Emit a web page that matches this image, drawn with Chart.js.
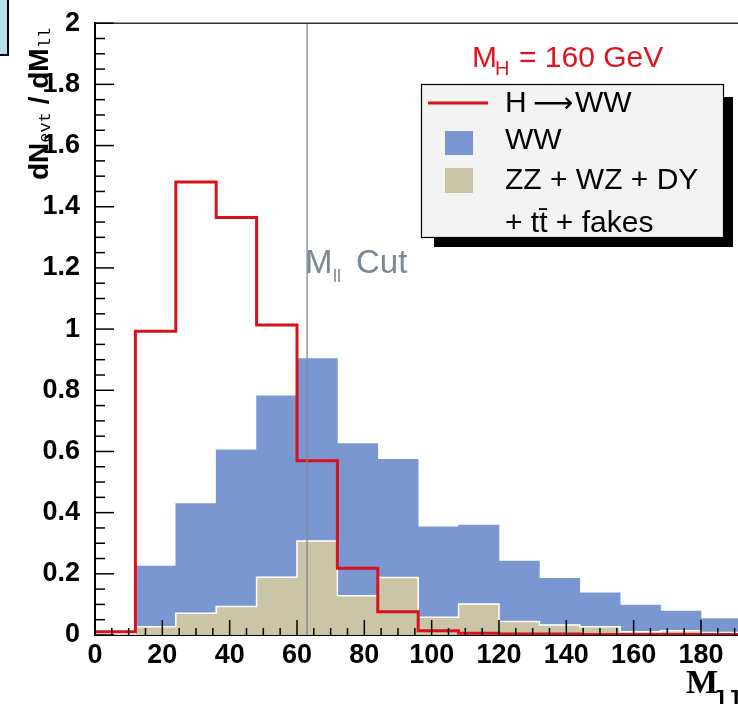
<!DOCTYPE html>
<html>
<head>
<meta charset="utf-8">
<script src="https://cdn.jsdelivr.net/npm/chart.js@4.4.1/dist/chart.umd.min.js"></script>
<style>
  html, body { margin: 0; padding: 0; background: #fff; }
  #wrap { width: 738px; height: 704px; position: relative; }
</style>
</head>
<body>
<div id="wrap"><canvas id="grafico" width="738" height="704"></canvas></div>
<script>
// ---- dados (bins de 12 GeV) ----
const binLow = [0, 12, 24, 36, 48, 60, 72, 84, 96, 108, 120, 132, 144, 156, 168, 180];
const binWidth = 12;
const wwFundo = [0, 0.225, 0.430, 0.605, 0.782, 0.904, 0.626, 0.574, 0.354, 0.359, 0.242, 0.185, 0.138, 0.098, 0.078, 0.054];
const outrosFundo = [0, 0.027, 0.071, 0.093, 0.189, 0.307, 0.128, 0.188, 0.058, 0.101, 0.044, 0.033, 0.027, 0.011, 0.014, 0.008];
const sinalHWW = [0.011, 0.993, 1.481, 1.365, 1.013, 0.570, 0.218, 0.076, 0.014, 0.006, 0.003, 0.003, 0.002, 0.002, 0.002, 0.002];
const corteMll = 63;
const xMin = 0, xMax = 191, xPasso = 20;
const yMin = 0, yMax = 2, yPasso = 0.2;

const legendaItens = ['WW', 'ZZ + WZ + DY', '+ tt\u0304 + fakes'];

const AZUL = '#7b97d1';
const BEGE = '#cbc5a7';
const VERMELHO = '#d8111b';
const SANS = '"Liberation Sans", Arial, sans-serif';

// pontos de histograma
const barras = vals => vals.map((v, i) => ({ x: binLow[i] + binWidth / 2, y: v }));
const degraus = vals => {
    const pts = vals.map((v, i) => ({ x: binLow[i], y: v }));
    pts.push({ x: binLow[binLow.length - 1] + binWidth, y: vals[vals.length - 1] });
    return pts;
};

const decoracao = {
    id: 'decoracao',
    afterDatasetsDraw(chart) {
        const { ctx, chartArea: a, scales: { x, y } } = chart;
        ctx.save();

        // linha de corte
        const xc = x.getPixelForValue(corteMll);
        ctx.strokeStyle = '#7f8790';
        ctx.lineWidth = 1.3;
        ctx.beginPath(); ctx.moveTo(xc, a.top); ctx.lineTo(xc, a.bottom); ctx.stroke();

        // moldura superior
        ctx.strokeStyle = '#333';
        ctx.lineWidth = 1.5;
        ctx.beginPath(); ctx.moveTo(a.left, a.top); ctx.lineTo(a.right, a.top); ctx.stroke();

        // marcas internas eixo y
        ctx.strokeStyle = '#000';
        ctx.lineWidth = 1.5;
        for (let i = 0; i <= 40; i++) {
            const py = y.getPixelForValue(i * 0.05);
            const len = i % 4 === 0 ? 19 : 10;
            ctx.beginPath(); ctx.moveTo(a.left, py); ctx.lineTo(a.left + len, py); ctx.stroke();
        }
        // marcas internas eixo x
        for (let v = 0; v <= xMax; v += 5) {
            const px = x.getPixelForValue(v);
            const len = v % 20 === 0 ? 15 : 7;
            ctx.beginPath(); ctx.moveTo(px, a.bottom); ctx.lineTo(px, a.bottom - len); ctx.stroke();
        }

        ctx.textBaseline = 'alphabetic';
        // texto do corte
        ctx.fillStyle = '#7a8894';
        ctx.font = '33px ' + SANS;
        ctx.fillText('M', 305, 273);
        ctx.font = '18px ' + SANS;
        ctx.fillText('ll', 333, 282);
        ctx.font = '33px ' + SANS;
        ctx.fillText('Cut', 356, 273);

        // M_H = 160 GeV
        ctx.fillStyle = '#e0141e';
        ctx.font = '30px ' + SANS;
        ctx.fillText('M', 472, 67);
        ctx.font = '20px ' + SANS;
        ctx.fillText('H', 495, 75);
        ctx.font = '30px ' + SANS;
        ctx.fillText('= 160 GeV', 519, 67);

        // legenda com sombra
        ctx.fillStyle = '#000';
        ctx.fillRect(434, 97, 299, 150);
        ctx.fillStyle = '#f3f3f3';
        ctx.fillRect(421, 84, 302, 153);
        ctx.strokeStyle = '#000';
        ctx.lineWidth = 1.2;
        ctx.strokeRect(421.5, 84.5, 302, 153);

        ctx.strokeStyle = VERMELHO;
        ctx.lineWidth = 3;
        ctx.beginPath(); ctx.moveTo(428, 103); ctx.lineTo(488, 103); ctx.stroke();
        ctx.fillStyle = AZUL;
        ctx.fillRect(445, 131, 28, 24);
        ctx.fillStyle = BEGE;
        ctx.fillRect(445, 168, 28, 25);

        ctx.fillStyle = '#000';
        ctx.font = '30px ' + SANS;
        ctx.fillText('H', 505, 112);
        ctx.font = '28px "DejaVu Sans", sans-serif';
        ctx.fillText('\u27F6', 533, 112);
        ctx.font = '30px ' + SANS;
        ctx.fillText('WW', 575, 112);
        const bases = [149, 189, 232];
        legendaItens.forEach((t, i) => ctx.fillText(t, 505, bases[i]));

        ctx.restore();
    },
    afterDraw(chart) {
        const { ctx } = chart;
        ctx.save();
        // caixinha no canto
        ctx.fillStyle = '#b9dee4';
        ctx.fillRect(0, 0, 8, 55);
        ctx.strokeStyle = '#000';
        ctx.lineWidth = 2;
        ctx.beginPath(); ctx.moveTo(8, 0); ctx.lineTo(8, 55); ctx.lineTo(0, 55); ctx.stroke();

        // título eixo y (rotacionado)
        ctx.translate(48, 180);
        ctx.rotate(-Math.PI / 2);
        ctx.fillStyle = '#000';
        ctx.textBaseline = 'alphabetic';
        let px = 0;
        const parte = (txt, font, dy) => {
            ctx.font = font;
            ctx.fillText(txt, px, dy);
            px += ctx.measureText(txt).width;
        };
        parte('dN', 'bold 28px ' + SANS, 0);
        parte('evt', '17px "Liberation Mono", monospace', 2);
        parte(' / ', 'bold 28px ' + SANS, 0);
        parte('dM', 'bold 28px ' + SANS, 0);
        parte('ll', '17px "Liberation Mono", monospace', 2);
        ctx.restore();

        // título eixo x
        ctx.save();
        ctx.fillStyle = '#000';
        ctx.font = 'bold 34px "Liberation Serif", serif';
        ctx.fillText('M', 686, 693);
        ctx.font = 'bold 24px "Liberation Mono", monospace';
        ctx.fillText('ll', 714, 708);
        ctx.restore();
    }
};

const fonteTicks = { family: SANS, size: 27, weight: 'bold' };

new Chart(document.getElementById('grafico'), {
    type: 'bar',
    data: {
        datasets: [
            { type: 'line', label: 'H \u2192 WW', data: degraus(sinalHWW), stepped: 'before',
              borderColor: VERMELHO, borderWidth: 3, pointRadius: 0, fill: false, order: 0 },
            { type: 'line', label: 'contorno', data: degraus(outrosFundo), stepped: 'before',
              borderColor: '#ffffff', borderWidth: 1.5, pointRadius: 0, fill: false, order: 1 },
            { label: 'ZZ + WZ + DY + tt + fakes', data: barras(outrosFundo), backgroundColor: BEGE,
              borderWidth: 0, barPercentage: 1, categoryPercentage: 1, order: 2 },
            { label: 'WW', data: barras(wwFundo), backgroundColor: AZUL,
              borderWidth: 0, barPercentage: 1, categoryPercentage: 1, order: 3 }
        ]
    },
    options: {
        responsive: false,
        devicePixelRatio: 1,
        animation: false,
        layout: { padding: { top: 23, right: 0, left: 0, bottom: 0 } },
        plugins: { legend: { display: false }, tooltip: { enabled: false } },
        scales: {
            x: {
                type: 'linear', min: xMin, max: xMax, stacked: true, offset: false,
                grid: { display: false, offset: false },
                border: { display: true, color: '#000', width: 2 },
                ticks: { stepSize: xPasso, includeBounds: false, font: fonteTicks, color: '#000',
                         padding: -4, maxRotation: 0, autoSkip: false },
                afterBuildTicks: s => { s.ticks = s.ticks.filter(t => t.value % xPasso === 0); },
                afterFit: s => { s.height = 69; }
            },
            y: {
                min: yMin, max: yMax, stacked: false,
                grid: { display: false },
                border: { display: true, color: '#000', width: 2 },
                ticks: { stepSize: yPasso, font: fonteTicks, color: '#000', padding: 7,
                         callback: v => String(Math.round(v * 10) / 10) },
                afterFit: s => { s.width = 95; }
            }
        }
    },
    plugins: [decoracao]
});
</script>
</body>
</html>
